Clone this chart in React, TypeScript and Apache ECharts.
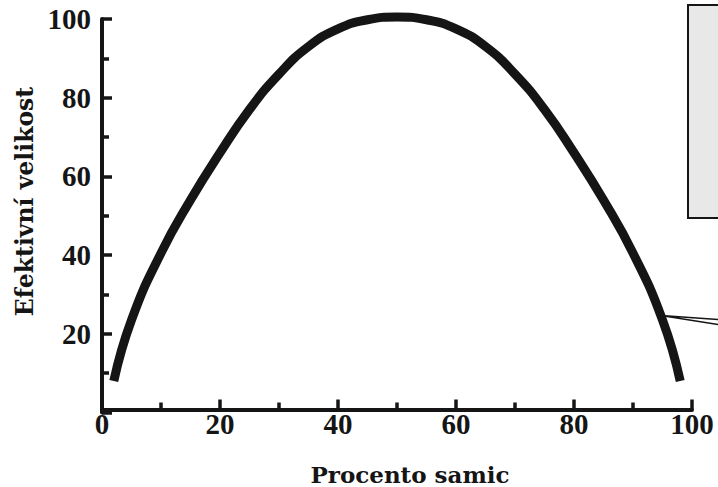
import React, { useEffect, useRef } from "react";
import * as echarts from "echarts";

const percentFemales = [2, 5, 10, 15, 20, 25, 30, 35, 40, 45, 50, 55, 60, 65, 70, 75, 80, 85, 90, 95, 98];
const effectiveSize = [8, 23.5, 40.5, 54, 66, 77, 86, 93, 97.5, 99.8, 100.5, 99.8, 97.5, 93, 86, 77, 66, 54, 40.5, 23.5, 8];
const xTitle = "Procento samic";
const yTitle = "Efektivní velikost";

export default function App() {
  const ref = useRef<HTMLDivElement>(null);
  useEffect(() => {
    if (!ref.current) return;
    const chart = echarts.init(ref.current, undefined, { renderer: "svg" });
    const ink = "#151515";
    const tickFont = { fontFamily: "Liberation Serif", fontWeight: "bold" as const, fontSize: 29, color: ink };
    chart.setOption({
      animation: false,
      backgroundColor: "#ffffff",
      grid: { left: 102, right: 26, top: 19, bottom: 74.5 },
      xAxis: {
        type: "value",
        min: 0,
        max: 100,
        interval: 20,
        offset: -3,
        axisLine: { lineStyle: { color: ink, width: 4 } },
        axisTick: { inside: true, length: 10, lineStyle: { color: ink, width: 3.5 } },
        minorTick: { show: true, splitNumber: 2, length: 7, lineStyle: { color: ink, width: 3.5 } },
        splitLine: { show: false },
        axisLabel: { ...tickFont, margin: 0 },
      },
      yAxis: {
        type: "value",
        min: 0,
        max: 100,
        interval: 20,
        axisLine: { show: true, lineStyle: { color: ink, width: 4 } },
        axisTick: { show: true, inside: true, length: 10, lineStyle: { color: ink, width: 3.5 } },
        minorTick: { show: true, splitNumber: 2, length: 7, lineStyle: { color: ink, width: 3.5 } },
        splitLine: { show: false },
        axisLabel: { ...tickFont, margin: 11, formatter: (v: number) => (v === 0 ? "" : String(v)) },
      },
      series: [
        {
          type: "line",
          data: percentFemales.map((p, i) => [p, effectiveSize[i]]),
          showSymbol: false,
          smooth: 0.5,
          clip: false,
          lineStyle: { color: ink, width: 9, cap: "butt" },
        },
      ],
      graphic: [
        {
          type: "text",
          x: 410,
          y: 474.5,
          style: {
            text: xTitle,
            font: "bold 23px 'DejaVu Serif'",
            fill: ink,
            align: "center",
            verticalAlign: "middle",
            textAlign: "center",
            textVerticalAlign: "middle",
          },
        },
        {
          type: "text",
          x: 25,
          y: 201.5,
          rotation: Math.PI / 2,
          style: {
            text: yTitle,
            font: "bold 23.5px 'DejaVu Serif'",
            fill: ink,
            align: "center",
            verticalAlign: "middle",
            textAlign: "center",
            textVerticalAlign: "middle",
          },
        },
        {
          type: "rect",
          shape: { x: 688, y: 5, width: 40, height: 213 },
          style: { fill: "#e8e8e8", stroke: ink, lineWidth: 2 },
        },
        {
          type: "polyline",
          shape: { points: [[718, 319.5], [661, 315.5], [718, 324.5]] },
          style: { fill: "none", stroke: ink, lineWidth: 1.5 },
        },
      ],
    });
    return () => chart.dispose();
  }, []);
  return <div ref={ref} style={{ position: "fixed", left: 0, top: 0, width: 718, height: 487 }} />;
}
